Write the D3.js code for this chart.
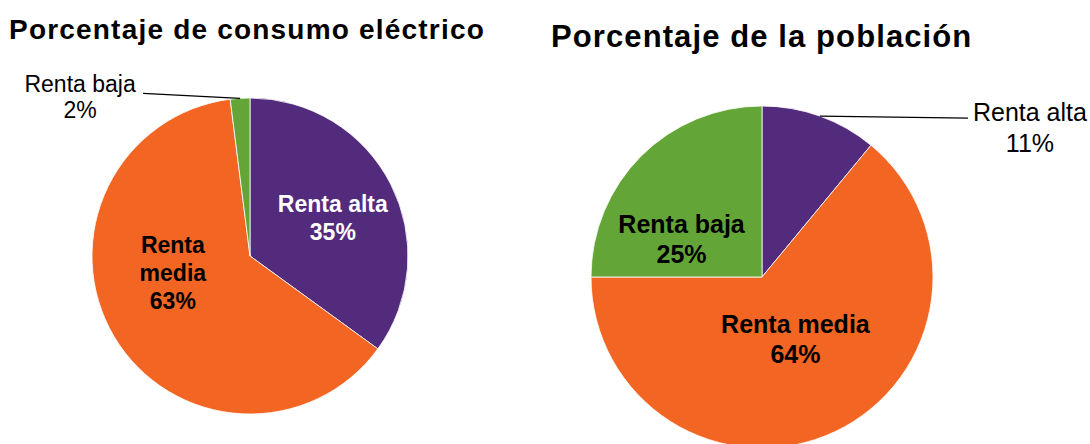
<!DOCTYPE html>
<html>
<head>
<meta charset="utf-8">
<script src="https://d3js.org/d3.v7.min.js"></script>
<style>
  body { margin: 0; background: #fff; }
  text { font-family: "Liberation Sans", Arial, sans-serif; }
</style>
</head>
<body>
<div id="chart"></div>
<script>
// categories and values
var categories = ["Renta alta", "Renta media", "Renta baja"];
var consumo = [35, 63, 2];
var poblacion = [11, 64, 25];
var colors = ["#532B7D", "#F26522", "#63A537"];

var width = 1090,
  height = 444;

var svg = d3.select("#chart").append("svg")
  .attr("width", width)
  .attr("height", height);

var color = d3.scaleOrdinal().domain(categories).range(colors);

var pie = d3.pie().sort(null).value(function(d) { return d.value; });

// draws one pie with its title and labels
function drawPie(opts) {
  var data = categories.map(function(c, i) { return {name: c, value: opts.values[i]}; });
  var arcs = pie(data);
  var r = opts.r;
  var arc = d3.arc().innerRadius(0).outerRadius(r);
  var labelArc = d3.arc().innerRadius(r * opts.labelR).outerRadius(r * opts.labelR);

  // title
  svg.append("text")
    .attr("x", opts.titleX)
    .attr("y", opts.titleY)
    .attr("font-size", opts.titleSize)
    .attr("font-weight", "bold")
    .attr("letter-spacing", opts.titleSpacing)
    .attr("fill", "#000")
    .text(opts.title);

  var g = svg.append("g")
    .attr("transform", "translate(" + opts.cx + "," + opts.cy + ")");

  g.selectAll("path")
    .data(arcs)
    .enter().append("path")
    .attr("d", arc)
    .attr("fill", function(d) { return color(d.data.name); })
    .attr("stroke", "#fff")
    .attr("stroke-width", 0.8);

  arcs.forEach(function(d, i) {
    var lines = opts.lines[i].concat([d.data.value + "%"]);
    if (opts.outside[i]) {
      // callout label with a leader line from the slice edge
      var mid = (d.startAngle + d.endAngle) / 2;
      var px = Math.sin(mid) * r,
        py = -Math.cos(mid) * r;
      var ex = px + opts.outside[i].dx,
        ey = py + opts.outside[i].dy;
      g.append("line")
        .attr("x1", px).attr("y1", py)
        .attr("x2", ex).attr("y2", ey)
        .attr("stroke", "#000")
        .attr("stroke-width", 1.3);
      var t = g.append("text")
        .attr("text-anchor", "middle")
        .attr("font-size", opts.outSize)
        .attr("fill", "#000");
      lines.forEach(function(l, k) {
        t.append("tspan")
          .attr("x", ex + opts.outside[i].tx)
          .attr("y", ey + opts.outside[i].ty + k * opts.outLine)
          .text(l);
      });
    } else {
      var c = labelArc.centroid(d);
      var off = opts.nudge[i];
      var t2 = g.append("text")
        .attr("text-anchor", "middle")
        .attr("font-size", opts.inSize)
        .attr("font-weight", "bold")
        .attr("fill", i === 0 ? "#fff" : "#000");
      var top = c[1] + off[1] - (lines.length - 1) * opts.inLine / 2 + opts.inSize * 0.36;
      lines.forEach(function(l, k) {
        t2.append("tspan")
          .attr("x", c[0] + off[0])
          .attr("y", top + k * opts.inLine)
          .text(l);
      });
    }
  });
}

drawPie({
  title: "Porcentaje de consumo eléctrico",
  titleX: 9, titleY: 39, titleSize: 28, titleSpacing: 1.2,
  values: consumo,
  cx: 250, cy: 256, r: 158,
  labelR: 0.56,
  lines: [["Renta alta"], ["Renta", "media"], ["Renta baja"]],
  nudge: [[4, 2], [-1, -28], [0, 0]],
  outside: [null, null, {dx: -97, dy: -5, tx: -63, ty: -1}],
  inSize: 23, inLine: 28,
  outSize: 23, outLine: 26
});

drawPie({
  title: "Porcentaje de la población",
  titleX: 551, titleY: 47, titleSize: 31, titleSpacing: 1.1,
  values: poblacion,
  cx: 762, cy: 277, r: 171,
  labelR: 0.5,
  lines: [["Renta alta"], ["Renta media"], ["Renta baja"]],
  nudge: [[0, 0], [-3, -15], [-20, 22]],
  outside: [{dx: 148, dy: 2, tx: 62, ty: 3}, null, null],
  inSize: 25, inLine: 30,
  outSize: 25, outLine: 31
});
</script>
</body>
</html>
